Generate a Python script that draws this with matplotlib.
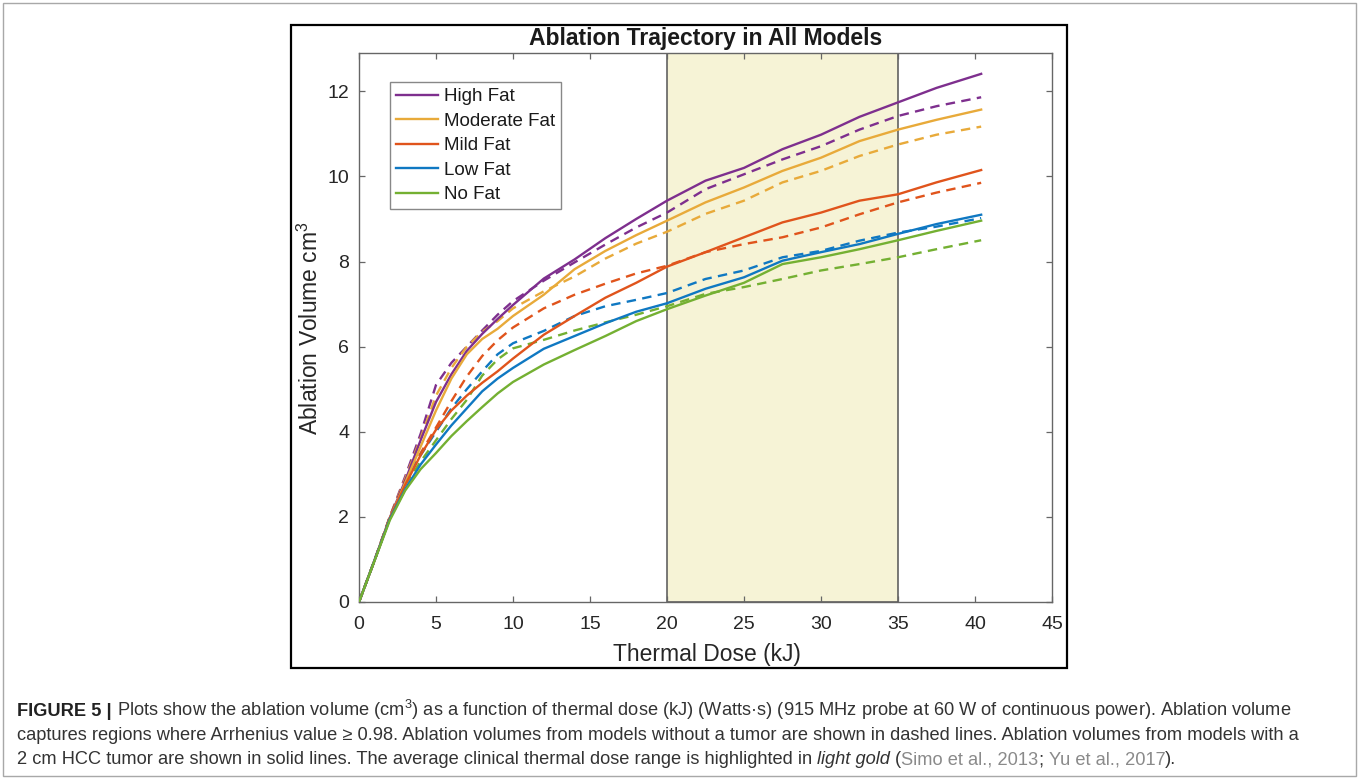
import matplotlib
matplotlib.use("Agg")
import matplotlib.pyplot as plt
from matplotlib.patches import Rectangle

plt.rcParams['font.family'] = ['Liberation Sans', 'DejaVu Sans']
plt.rcParams['mathtext.default'] = 'regular'

# ---------------- data ----------------
dose_kj = [0, 1, 2, 3, 4, 5, 6, 7, 8, 9, 10, 12, 14, 16, 18, 20,
           22.5, 25, 27.5, 30, 32.5, 35, 37.5, 40.4]

labels = ['High Fat', 'Moderate Fat', 'Mild Fat', 'Low Fat', 'No Fat']

# with 2 cm HCC tumor (solid)
high_tumor = [0, 0.97, 1.98, 2.85, 3.8, 4.7, 5.35, 5.9, 6.3, 6.65, 6.98, 7.6, 8.05, 8.55, 9.0, 9.43,
              9.9, 10.2, 10.64, 10.98, 11.4, 11.74, 12.08, 12.41]
mod_tumor = [0, 0.97, 1.97, 2.8, 3.65, 4.5, 5.25, 5.82, 6.18, 6.42, 6.72, 7.22, 7.82, 8.25, 8.62, 8.96,
             9.39, 9.74, 10.13, 10.44, 10.83, 11.1, 11.33, 11.57]
mild_tumor = [0, 0.97, 1.97, 2.75, 3.45, 4.05, 4.5, 4.85, 5.15, 5.42, 5.72, 6.28, 6.72, 7.15, 7.5, 7.88,
              8.22, 8.57, 8.92, 9.15, 9.43, 9.58, 9.86, 10.15]
low_tumor = [0, 0.97, 1.95, 2.65, 3.23, 3.7, 4.15, 4.55, 4.95, 5.25, 5.5, 5.95, 6.25, 6.55, 6.82, 7.02,
             7.36, 7.63, 8.02, 8.22, 8.41, 8.65, 8.88, 9.1]
no_tumor_fat0 = [0, 0.96, 1.92, 2.62, 3.12, 3.5, 3.9, 4.25, 4.58, 4.9, 5.17, 5.58, 5.92, 6.25, 6.6, 6.88,
                 7.2, 7.5, 7.94, 8.1, 8.29, 8.5, 8.72, 8.96]

# without tumor (dashed)
high_none = [0, 0.97, 2.0, 2.95, 3.95, 5.1, 5.62, 6.0, 6.38, 6.75, 7.07, 7.55, 7.98, 8.4, 8.8, 9.15,
             9.7, 10.05, 10.4, 10.71, 11.1, 11.42, 11.65, 11.86]
mod_none = [0, 0.97, 2.0, 2.9, 3.85, 4.85, 5.5, 6.0, 6.35, 6.6, 6.9, 7.3, 7.65, 8.07, 8.42, 8.7,
            9.12, 9.43, 9.86, 10.13, 10.48, 10.75, 10.98, 11.17]
mild_none = [0, 0.97, 2.0, 2.85, 3.5, 4.1, 4.72, 5.3, 5.78, 6.15, 6.45, 6.9, 7.22, 7.48, 7.72, 7.9,
             8.22, 8.41, 8.57, 8.8, 9.11, 9.39, 9.62, 9.85]
low_none = [0, 0.97, 1.98, 2.8, 3.45, 4.0, 4.55, 5.0, 5.42, 5.82, 6.08, 6.37, 6.72, 6.95, 7.1, 7.26,
            7.59, 7.79, 8.1, 8.25, 8.49, 8.68, 8.82, 9.02]
nofat_none = [0, 0.97, 1.98, 2.75, 3.3, 3.8, 4.3, 4.75, 5.32, 5.7, 5.96, 6.16, 6.38, 6.57, 6.75, 6.95,
              7.24, 7.4, 7.59, 7.79, 7.94, 8.1, 8.29, 8.5]

clinical_range = [20, 35]
x_ticks = [0, 5, 10, 15, 20, 25, 30, 35, 40, 45]
y_ticks = [0, 2, 4, 6, 8, 10, 12]

colors = ['#7E2F8E', '#E8AA3A', '#E0541C', '#0F78C2', '#74B032']
solid_series = [high_tumor, mod_tumor, mild_tumor, low_tumor, no_tumor_fat0]
dashed_series = [high_none, mod_none, mild_none, low_none, nofat_none]

# ---------------- figure ----------------
W, H = 1360, 779
fig = plt.figure(figsize=(W / 100, H / 100), dpi=100)


def fx(px):
    return px / W


def fy(py):
    return 1 - py / H


# outer light border and inner black chart frame
fig.add_artist(Rectangle((fx(3), fy(776)), fx(1356) - fx(3), fy(3) - fy(776), transform=fig.transFigure,
                         fill=False, edgecolor='#a8a8a8', lw=1.0))
fig.add_artist(Rectangle((fx(291), fy(668)), fx(1067) - fx(291), fy(25) - fy(668), transform=fig.transFigure,
                         fill=False, edgecolor='black', lw=1.6))

ax = fig.add_axes([fx(359), fy(602), fx(1052) - fx(359), fy(53) - fy(602)])
ax.axvspan(clinical_range[0], clinical_range[1], facecolor='#F6F3D6', edgecolor='#555555', lw=1.1, zorder=0.5)

handles = []
for ys, c, lab in zip(solid_series, colors, labels):
    h, = ax.plot(dose_kj, ys, color=c, lw=1.7, label=lab, zorder=3)
    handles.append(h)
for ys, c in zip(dashed_series, colors):
    ax.plot(dose_kj, ys, color=c, lw=1.7, linestyle=(0, (4.0, 2.7)), zorder=2.5)

ax.set_xlim(0, 45)
ax.set_ylim(0, 12.9)
ax.set_xticks(x_ticks)
ax.set_yticks(y_ticks)
ax.tick_params(direction='in', top=True, right=True, length=4.5, width=0.9, color='#666666',
               labelsize=14, labelcolor='#262626')
ax.tick_params(axis='x', pad=10)
ax.tick_params(axis='y', pad=7)
for s in ax.spines.values():
    s.set_color('#666666')
    s.set_linewidth(1.0)

leg = ax.legend(handles, labels, loc='upper left', bbox_to_anchor=(fx(390), fy(82)),
                bbox_transform=fig.transFigure, borderaxespad=0, fontsize=13.5, frameon=True,
                fancybox=False, edgecolor='#888888', handlelength=2.25, handletextpad=0.3,
                labelspacing=0.39, borderpad=0.33, framealpha=1)
leg.get_frame().set_linewidth(1.0)
for t in leg.get_texts():
    t.set_color('#1a1a1a')

fig.text(fx(706), fy(44.5), 'Ablation Trajectory in All Models', ha='center', va='baseline',
         fontsize=16.5, fontweight='bold', color='#1a1a1a')
fig.text(fx(706.5), fy(660.5), 'Thermal Dose (kJ)', ha='center', va='baseline', fontsize=16.5,
         color='#262626')
fig.text(fx(318), fy(435), 'Ablation Volume cm$^{3}$', rotation=90, rotation_mode='anchor',
         ha='left', va='baseline', fontsize=16.5, color='#262626')

# ---------------- caption ----------------
txt_col = '#333333'
cite_col = '#8a8a8a'
line1 = [('FIGURE 5 |', dict(fontweight='bold', color='#222222'), False),
         ('Plots show the ablation volume (cm$^{3}$) as a function of thermal dose (kJ) (Watts\u00b7s) '
          '(915 MHz probe at 60 W of continuous power). Ablation volume', dict(color=txt_col), True)]
line2 = [('captures regions where Arrhenius value \u2265 0.98. Ablation volumes from models without a tumor '
          'are shown in dashed lines. Ablation volumes from models with a', dict(color=txt_col), False)]
line3 = [('2 cm HCC tumor are shown in solid lines. The average clinical thermal dose range is highlighted in',
          dict(color=txt_col), False),
         ('light gold', dict(color=txt_col, style='italic'), True),
         ('(', dict(color=txt_col), True),
         ('Simo et al., 2013', dict(color=cite_col), False),
         (';', dict(color=txt_col), False),
         ('Yu et al., 2017', dict(color=cite_col), True),
         (').', dict(color=txt_col), False)]

renderer = fig.canvas.get_renderer()


def width_px(s, size, **kw):
    t = fig.text(0, 0, s, fontsize=size, **kw)
    w = t.get_window_extent(renderer).width
    t.remove()
    return w


base = 11.0
w_line1 = sum(width_px(s, base, **kw) for s, kw, _ in line1) + 0.278 * base * 100 / 72
cap_size = base * (1290 - 17) / w_line1


def draw_line(pieces, x0, y0, size):
    x = x0
    for s, kw, gap in pieces:
        if gap:
            x += 0.278 * size * 100 / 72
        t = fig.text(fx(x), fy(y0), s, ha='left', va='baseline', fontsize=size, **kw)
        x = t.get_window_extent(renderer).x1


draw_line(line1, 17, 715.7, cap_size)
draw_line(line2, 17, 740, cap_size)
draw_line(line3, 17, 764.3, cap_size)

fig.savefig('out.png', dpi=100)
